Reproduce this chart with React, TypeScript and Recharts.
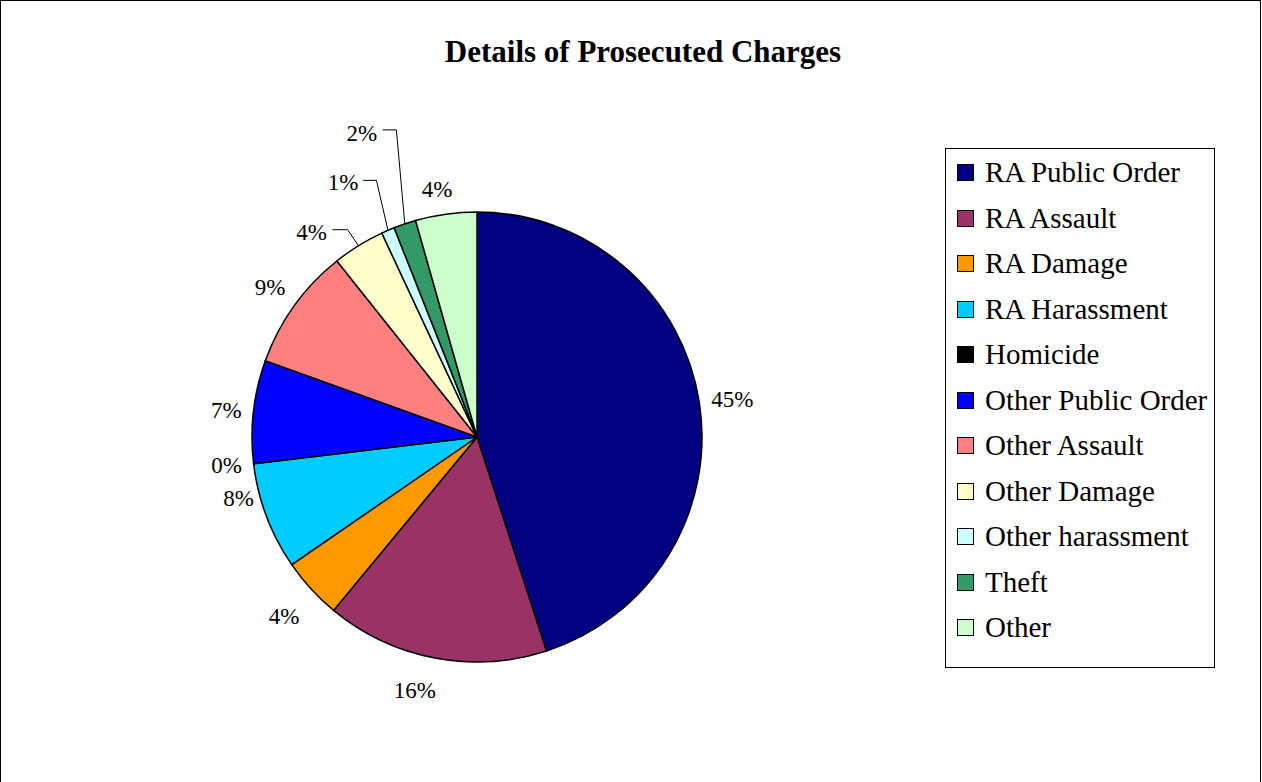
import React from "react";
import { PieChart, Pie, Cell, Legend } from "recharts";

const categories = [
  "RA Public Order",
  "RA Assault",
  "RA Damage",
  "RA Harassment",
  "Homicide",
  "Other Public Order",
  "Other Assault",
  "Other Damage",
  "Other harassment",
  "Theft",
  "Other",
];

// share of charges (percent)
const shares = [45, 16, 4.4, 7.7, 0, 7.4, 8.8, 3.75, 0.95, 1.6, 4.4];

const COLORS = [
  "#000080",
  "#993366",
  "#FF9900",
  "#00CCFF",
  "#000000",
  "#0000FF",
  "#FF8080",
  "#FFFFCC",
  "#CCFFFF",
  "#339966",
  "#CCFFCC",
];

const chartData = categories.map((name, i) => ({ name, value: shares[i] }));

const FONT = '"Times New Roman", "Liberation Serif", serif';
const RAD = Math.PI / 180;

// label placement relative to the point where the slice's mid angle meets the rim
const LABEL_OFFSET: Array<[number, number]> = [
  [33, -2],
  [-20, 32],
  [-27, 28],
  [-28, -18],
  [-27, 2],
  [-27, -1],
  [-24, -18],
  [-47, -13],
  [-45, -48],
  [-43, -90],
  [-9, -25],
];

// leader lines for the thin slices: elbow and end, relative to the rim point
const LEADERS: Record<number, Array<[number, number]>> = {
  7: [[-11, -16], [-26, -16]],
  8: [[-11.5, -50], [-25, -50]],
  9: [[-8.4, -94], [-22, -94]],
};

function SliceLabel(props: any) {
  const { cx, cy, midAngle, outerRadius, percent, index } = props;
  const ex = cx + Math.cos(-midAngle * RAD) * outerRadius;
  const ey = cy + Math.sin(-midAngle * RAD) * outerRadius;
  const [dx, dy] = LABEL_OFFSET[index] ?? [0, 0];
  const leader = LEADERS[index];
  return (
    <g>
      {leader && (
        <polyline
          points={[[0, 0], ...leader].map(([a, b]) => `${ex + a},${ey + b}`).join(" ")}
          fill="none"
          stroke="#000"
          strokeWidth={1}
        />
      )}
      <text
        x={ex + dx}
        y={ey + dy}
        textAnchor="middle"
        dominantBaseline="central"
        fontFamily={FONT}
        fontSize={23}
        fill="#000"
      >
        {`${Math.round(percent * 100)}%`}
      </text>
    </g>
  );
}

function LegendBox() {
  return (
    <div
      style={{
        width: 270,
        height: 520,
        border: "1px solid #000",
        boxSizing: "border-box",
        paddingTop: 1,
        background: "#fff",
      }}
    >
      {categories.map((name, i) => (
        <div
          key={name}
          style={{ display: "flex", alignItems: "center", height: 45.5, paddingLeft: 11 }}
        >
          <span
            style={{
              width: 15,
              height: 15,
              background: COLORS[i],
              border: "1.5px solid #000",
              marginRight: 11,
              flexShrink: 0,
            }}
          />
          <span style={{ fontFamily: FONT, fontSize: 29, color: "#000", whiteSpace: "nowrap" }}>
            {name}
          </span>
        </div>
      ))}
    </div>
  );
}

export default function App() {
  return (
    <div style={{ position: "fixed", left: 0, top: 0, width: 1262, height: 782, overflow: "hidden", background: "#fff" }}>
      <div
        style={{
          position: "absolute",
          left: 0,
          top: 0,
          width: 1259,
          height: 800,
          border: "1.5px solid #000",
        }}
      />
      <div
        style={{
          position: "absolute",
          left: 12,
          top: 35,
          width: 1262,
          textAlign: "center",
          fontFamily: FONT,
          fontWeight: "bold",
          fontSize: 31,
          lineHeight: "34px",
        }}
      >
        Details of Prosecuted Charges
      </div>
      <div style={{ position: "absolute", left: 0, top: 0 }}>
        <PieChart width={1262} height={782} margin={{ top: 0, right: 0, bottom: 0, left: 0 }}>
          <Pie
            data={chartData}
            dataKey="value"
            nameKey="name"
            cx={477}
            cy={437}
            outerRadius={225}
            startAngle={90}
            endAngle={-270}
            stroke="#000"
            strokeWidth={1.5}
            label={SliceLabel}
            labelLine={false}
            isAnimationActive={false}
          >
            {chartData.map((d, i) => (
              <Cell key={d.name} fill={COLORS[i]} />
            ))}
          </Pie>
          <Legend
            layout="vertical"
            align="right"
            verticalAlign="top"
            content={() => <LegendBox />}
            wrapperStyle={{ left: 945, top: 148, width: 270 }}
          />
        </PieChart>
      </div>
    </div>
  );
}
